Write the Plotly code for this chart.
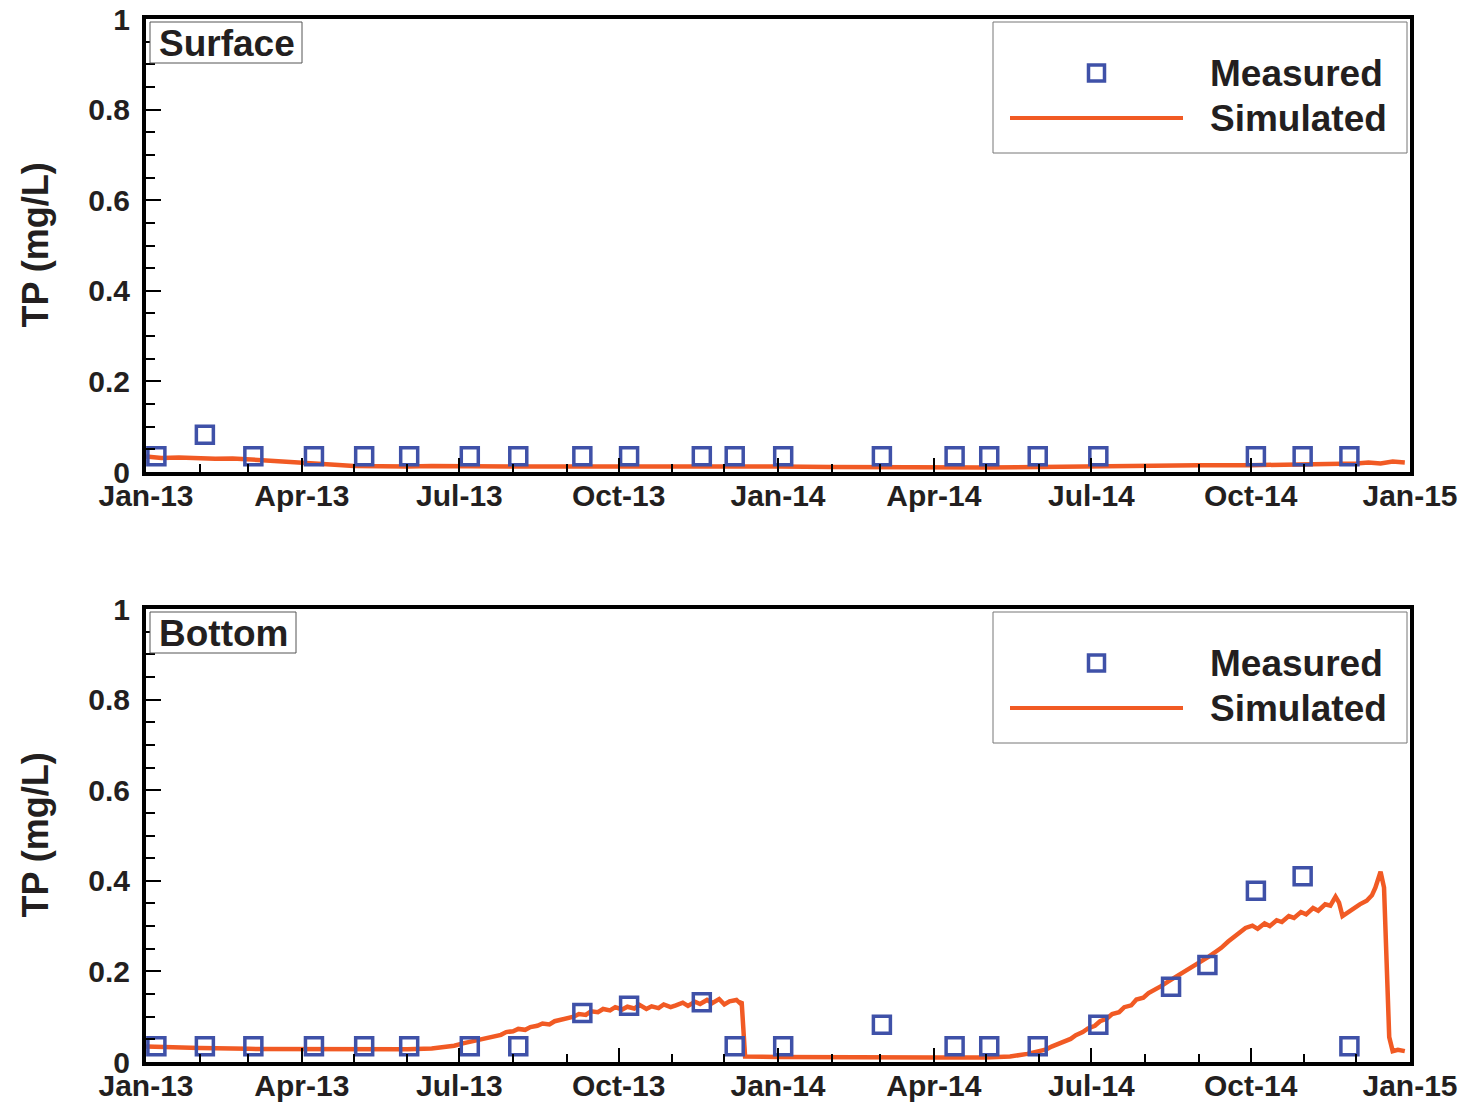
import plotly.graph_objects as go

# ---------------- data ----------------
meas_dates_top = ["2013-01-07", "2013-02-04", "2013-03-04", "2013-04-08", "2013-05-07", "2013-06-02",
                  "2013-07-07", "2013-08-04", "2013-09-10", "2013-10-07", "2013-11-18", "2013-12-07",
                  "2014-01-04", "2014-03-02", "2014-04-13", "2014-05-03", "2014-05-31", "2014-07-05",
                  "2014-10-04", "2014-10-31", "2014-11-27"]
meas_top = [0.035, 0.082, 0.035, 0.035, 0.035, 0.035,
            0.035, 0.035, 0.035, 0.035, 0.035, 0.035,
            0.035, 0.035, 0.035, 0.035, 0.035, 0.035,
            0.035, 0.035, 0.035]

meas_dates_bot = ["2013-01-07", "2013-02-04", "2013-03-04", "2013-04-08", "2013-05-07", "2013-06-02",
                  "2013-07-07", "2013-08-04", "2013-09-10", "2013-10-07", "2013-11-18", "2013-12-07",
                  "2014-01-04", "2014-03-02", "2014-04-13", "2014-05-03", "2014-05-31", "2014-07-05",
                  "2014-08-16", "2014-09-06", "2014-10-04", "2014-10-31", "2014-11-27"]
meas_bot = [0.035, 0.035, 0.035, 0.035, 0.035, 0.035,
            0.035, 0.035, 0.108, 0.124, 0.132, 0.035,
            0.035, 0.082, 0.035, 0.035, 0.035, 0.082,
            0.166, 0.214, 0.378, 0.410, 0.035]

sim_dates_top = ["2013-01-01", "2013-01-10", "2013-01-20", "2013-02-01", "2013-02-10", "2013-02-20",
                 "2013-03-01", "2013-03-10", "2013-03-20", "2013-04-01", "2013-04-10", "2013-04-20",
                 "2013-05-01", "2013-05-15", "2013-06-01", "2013-06-15", "2013-07-01", "2013-08-01",
                 "2013-09-01", "2013-10-01", "2013-11-01", "2013-12-01", "2013-12-15", "2014-01-01",
                 "2014-02-01", "2014-03-01", "2014-04-01", "2014-05-01", "2014-06-01", "2014-07-01",
                 "2014-08-01", "2014-09-01", "2014-10-01", "2014-11-01", "2014-11-15", "2014-12-01",
                 "2014-12-08", "2014-12-15", "2014-12-22", "2014-12-29"]
sim_top = [0.034, 0.031, 0.032, 0.030, 0.029, 0.030,
           0.028, 0.027, 0.025, 0.022, 0.019, 0.016,
           0.013, 0.012, 0.012, 0.013, 0.012, 0.012,
           0.012, 0.012, 0.013, 0.014, 0.012, 0.012,
           0.011, 0.010, 0.009, 0.010, 0.011, 0.013,
           0.014, 0.015, 0.015, 0.016, 0.018, 0.019,
           0.021, 0.019, 0.023, 0.021]

sim_dates_bot = ["2013-01-01", "2013-01-15", "2013-02-01", "2013-03-01", "2013-04-01", "2013-05-01",
                 "2013-06-01", "2013-06-15", "2013-06-22", "2013-06-28", "2013-07-03", "2013-07-07",
                 "2013-07-11", "2013-07-14", "2013-07-18", "2013-07-21", "2013-07-25", "2013-07-28",
                 "2013-08-01", "2013-08-04", "2013-08-08", "2013-08-11", "2013-08-15", "2013-08-18",
                 "2013-08-22", "2013-08-25", "2013-08-29", "2013-09-01", "2013-09-05", "2013-09-08",
                 "2013-09-12", "2013-09-15", "2013-09-19", "2013-09-22", "2013-09-26", "2013-09-29",
                 "2013-10-03", "2013-10-06", "2013-10-10", "2013-10-13", "2013-10-17", "2013-10-20",
                 "2013-10-24", "2013-10-27", "2013-10-31", "2013-11-03", "2013-11-07", "2013-11-10",
                 "2013-11-14", "2013-11-17", "2013-11-21", "2013-11-24", "2013-11-28", "2013-12-01",
                 "2013-12-04", "2013-12-08", "2013-12-10", "2013-12-11", "2013-12-12", "2013-12-13",
                 "2014-01-01", "2014-02-01", "2014-03-01", "2014-04-01", "2014-05-01", "2014-05-15",
                 "2014-05-25", "2014-06-01", "2014-06-05", "2014-06-08", "2014-06-12", "2014-06-15",
                 "2014-06-19", "2014-06-22", "2014-06-26", "2014-06-29", "2014-07-03", "2014-07-06",
                 "2014-07-10", "2014-07-13", "2014-07-17", "2014-07-20", "2014-07-24", "2014-07-27",
                 "2014-07-31", "2014-08-03", "2014-08-07", "2014-08-10", "2014-08-14", "2014-08-17",
                 "2014-08-21", "2014-08-24", "2014-08-28", "2014-08-31", "2014-09-04", "2014-09-07",
                 "2014-09-11", "2014-09-14", "2014-09-18", "2014-09-21", "2014-09-25", "2014-09-28",
                 "2014-10-02", "2014-10-05", "2014-10-09", "2014-10-12", "2014-10-16", "2014-10-19",
                 "2014-10-23", "2014-10-26", "2014-10-30", "2014-11-02", "2014-11-06", "2014-11-09",
                 "2014-11-13", "2014-11-16", "2014-11-19", "2014-11-21", "2014-11-23", "2014-11-26",
                 "2014-11-30", "2014-12-03", "2014-12-07", "2014-12-10", "2014-12-12", "2014-12-15",
                 "2014-12-17", "2014-12-18", "2014-12-19", "2014-12-20", "2014-12-22", "2014-12-25",
                 "2014-12-29"]
sim_bot = [0.034, 0.032, 0.031, 0.029, 0.028, 0.028,
           0.028, 0.030, 0.033, 0.036, 0.041, 0.044,
           0.047, 0.051, 0.053, 0.057, 0.060, 0.066,
           0.068, 0.073, 0.071, 0.077, 0.080, 0.085,
           0.083, 0.090, 0.093, 0.097, 0.100, 0.106,
           0.104, 0.112, 0.110, 0.117, 0.114, 0.121,
           0.116, 0.122, 0.118, 0.126, 0.117, 0.123,
           0.119, 0.127, 0.121, 0.125, 0.131, 0.124,
           0.133, 0.128, 0.137, 0.130, 0.139, 0.127,
           0.134, 0.137, 0.130, 0.133, 0.070, 0.012,
           0.011, 0.010, 0.010, 0.010, 0.010, 0.012,
           0.018, 0.024, 0.028, 0.034, 0.040, 0.046,
           0.051, 0.059, 0.066, 0.074, 0.080, 0.090,
           0.096, 0.106, 0.110, 0.121, 0.125, 0.138,
           0.142, 0.152, 0.160, 0.167, 0.177, 0.184,
           0.193, 0.199, 0.210, 0.215, 0.226, 0.233,
           0.244, 0.252, 0.266, 0.275, 0.290, 0.296,
           0.301, 0.294, 0.306, 0.300, 0.313, 0.309,
           0.322, 0.318, 0.331, 0.326, 0.340, 0.334,
           0.348, 0.345, 0.365, 0.352, 0.322, 0.330,
           0.341, 0.348, 0.356, 0.368, 0.385, 0.420,
           0.385, 0.250, 0.110, 0.055, 0.024, 0.027,
           0.024]

panel_labels = ["Surface", "Bottom"]
legend_labels = ["Measured", "Simulated"]
y_title = "TP (mg/L)"

# ---------------- styling ----------------
W, H = 1466, 1103
BLUE = "#3F51A8"
ORANGE = "#F15A24"
TXT = "#231F20"
FONT = "Liberation Sans"


def px(x):
    return x / W


def py(y):
    return 1 - y / H


fig = go.Figure()

panels = [
    dict(top=19, bottom=472, md=meas_dates_top, mv=meas_top, sd=sim_dates_top, sv=sim_top, lw=152),
    dict(top=609, bottom=1062, md=meas_dates_bot, mv=meas_bot, sd=sim_dates_bot, sv=sim_bot, lw=146),
]

layout = dict(
    width=W, height=H,
    margin=dict(l=0, r=0, t=0, b=0, autoexpand=False),
    paper_bgcolor="white", plot_bgcolor="white",
    showlegend=False,
    font=dict(family=FONT, color=TXT),
)
shapes = []
annotations = []

for i, p in enumerate(panels):
    sfx = "" if i == 0 else str(i + 1)
    xa, ya = "x" + sfx, "y" + sfx
    fig.add_trace(go.Scatter(x=p["sd"], y=p["sv"], mode="lines", xaxis=xa, yaxis=ya,
                             line=dict(color=ORANGE, width=4.5), name=legend_labels[1]))
    fig.add_trace(go.Scatter(x=p["md"], y=p["mv"], mode="markers", xaxis=xa, yaxis=ya,
                             marker=dict(symbol="square-open", size=17, color=BLUE,
                                         line=dict(color=BLUE, width=3.5)),
                             name=legend_labels[0], cliponaxis=False))
    layout["xaxis" + sfx] = dict(
        domain=[px(146), px(1410)], anchor=ya, type="date", automargin=False,
        range=["2013-01-01", "2015-01-01"],
        tick0="2013-01-01", dtick="M3", tickformat="%b-%y",
        ticks="inside", ticklen=14, tickwidth=2, tickcolor="black",
        minor=dict(dtick="M1", ticks="inside", ticklen=8, tickwidth=1.5, tickcolor="black"),
        showline=True, linewidth=4, linecolor="black", mirror=True,
        showgrid=False, zeroline=False,
        tickfont=dict(family=FONT, size=30, weight="bold", color=TXT),
        ticklabelstandoff=-6,
    )
    layout["yaxis" + sfx] = dict(
        domain=[py(p["bottom"]), py(p["top"])], anchor=xa, automargin=False,
        range=[0, 1], dtick=0.2, tick0=0,
        ticks="inside", ticklen=15, tickwidth=2, tickcolor="black",
        minor=dict(dtick=0.05, ticks="inside", ticklen=9, tickwidth=1.5, tickcolor="black"),
        showline=True, linewidth=4, linecolor="black", mirror=True,
        showgrid=False, zeroline=False,
        tickfont=dict(family=FONT, size=30, weight="bold", color=TXT),
        ticklabelstandoff=6,
    )
    t = p["top"]
    # y-axis title
    annotations.append(dict(x=px(35), y=py((p["top"] + p["bottom"]) / 2), xref="paper", yref="paper",
                            xanchor="center", yanchor="middle",
                            text=y_title, textangle=-90, showarrow=False,
                            font=dict(family=FONT, size=36, weight="bold", color=TXT)))
    # panel label box + text
    shapes.append(dict(type="rect", xref="paper", yref="paper",
                       x0=px(150), x1=px(150 + p["lw"]), y0=py(t + 44), y1=py(t + 3),
                       line=dict(color="#555555", width=1), fillcolor="white", layer="above"))
    annotations.append(dict(x=px(157), y=py(t + 24), xref="paper", yref="paper",
                            xanchor="left", yanchor="middle", text=panel_labels[i], showarrow=False,
                            font=dict(family=FONT, size=37, weight="bold", color=TXT)))
    # legend box
    shapes.append(dict(type="rect", xref="paper", yref="paper",
                       x0=px(993), x1=px(1407), y0=py(t + 134), y1=py(t + 3),
                       line=dict(color="#777777", width=1), fillcolor="white", layer="above"))
    shapes.append(dict(type="line", xref="paper", yref="paper",
                       x0=px(1010), x1=px(1183), y0=py(t + 99), y1=py(t + 99),
                       line=dict(color=ORANGE, width=4), layer="above"))
    shapes.append(dict(type="rect", xref="paper", yref="paper",
                       x0=px(1088.5), x1=px(1104.5), y0=py(t + 62), y1=py(t + 46),
                       line=dict(color=BLUE, width=3.5), fillcolor="white", layer="above"))
    annotations.append(dict(x=px(1208), y=py(t + 54), xref="paper", yref="paper",
                            xanchor="left", yanchor="middle", text=legend_labels[0], showarrow=False,
                            font=dict(family=FONT, size=37, weight="bold", color=TXT)))
    annotations.append(dict(x=px(1208), y=py(t + 99), xref="paper", yref="paper",
                            xanchor="left", yanchor="middle", text=legend_labels[1], showarrow=False,
                            font=dict(family=FONT, size=37, weight="bold", color=TXT)))

layout["shapes"] = shapes
layout["annotations"] = annotations
fig.update_layout(**layout)
fig.write_html("out.html", config={"displayModeBar": False},
               post_script="document.body.style.margin='0';document.body.style.overflow='hidden';")
